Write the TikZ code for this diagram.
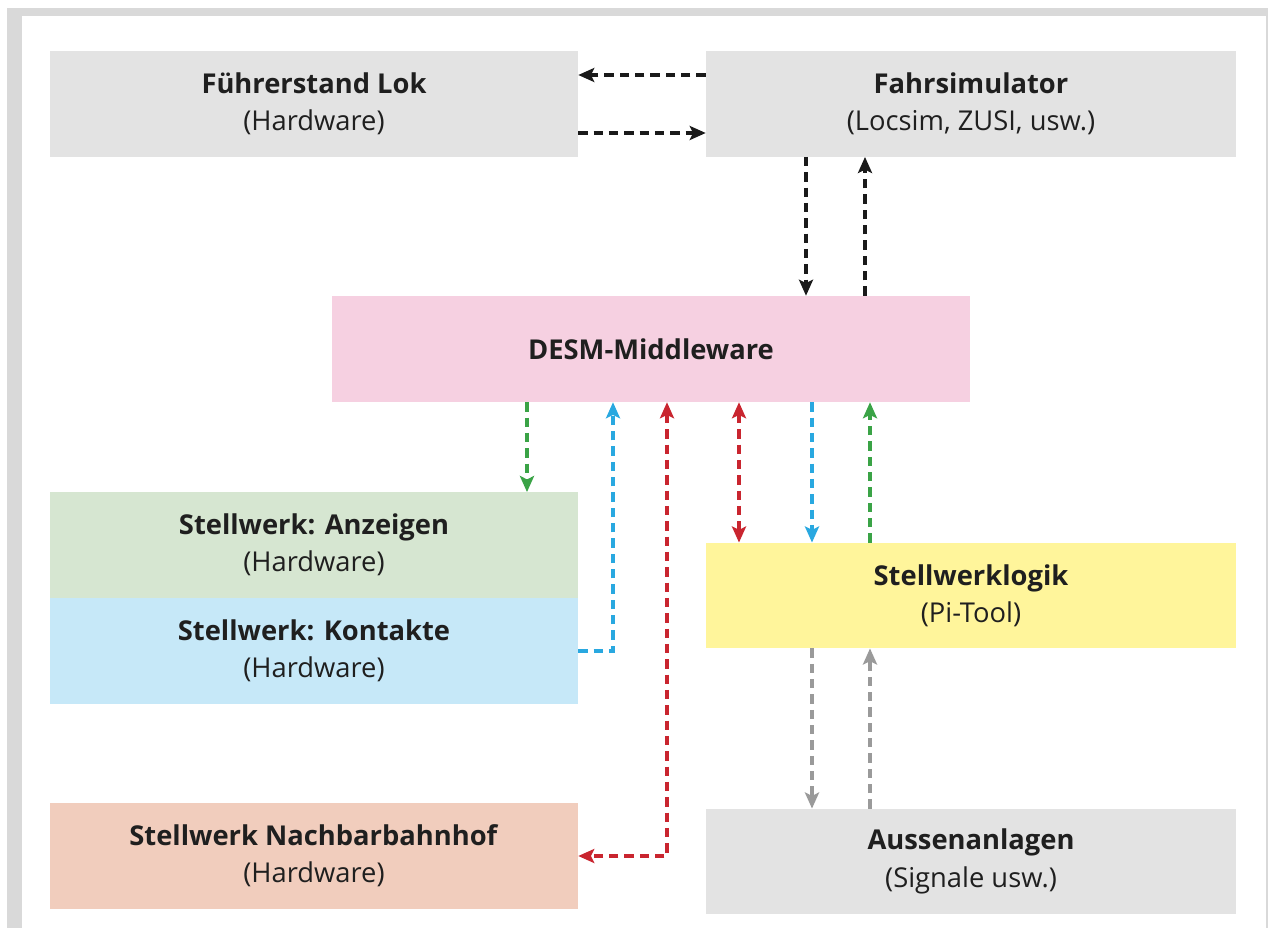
\documentclass[tikz,border=0pt]{standalone}
\usepackage{fontspec}
\setmainfont{Open Sans}
\usetikzlibrary{arrows.meta}

\definecolor{framegray}{RGB}{217,217,217}
\definecolor{boxgray}{RGB}{227,227,227}
\definecolor{boxpink}{RGB}{246,208,225}
\definecolor{boxgreen}{RGB}{214,230,209}
\definecolor{boxblue}{RGB}{198,232,248}
\definecolor{boxyellow}{RGB}{255,245,155}
\definecolor{boxsalmon}{RGB}{241,205,189}
\definecolor{arrgreen}{RGB}{58,163,70}
\definecolor{arrblue}{RGB}{41,168,224}
\definecolor{arrred}{RGB}{201,37,47}
\definecolor{arrgray}{RGB}{154,154,154}
\definecolor{arrblack}{RGB}{26,26,26}

\begin{document}
\begin{tikzpicture}[x=0.75pt,y=0.75pt,yscale=-1,xscale=1,
  >={Stealth[length=12pt,width=10.5pt,inset=2.5pt]},
  block/.style={inner sep=0pt,align=center,text=black!88,
    font=\fontsize{20.5}{28}\selectfont},
  wide/.style={block,minimum width=396pt,minimum height=79pt},
  link/.style={line width=2.5pt,dash pattern={on 7pt off 4.5pt},->},
  twoway/.style={link,<->}]
\useasboundingbox (0,0) rectangle (1268,928);

%Frame
\fill[framegray] (7,8) rectangle (1268,928);
\fill[white] (22,16) rectangle (1266,928);

%Boxes
\node[wide,fill=boxgray] (fuehr) at (314,104) {\textbf{Führerstand Lok}\\(Hardware)};
\node[wide,fill=boxgray,minimum width=397.5pt] (sim) at (971,104) {\textbf{Fahrsimulator}\\(Locsim, ZUSI, usw.)};
\node[block,fill=boxpink,minimum width=478.5pt,minimum height=79.5pt] (desm) at (651,349) {\textbf{DESM-Middleware}};
\node[wide,fill=boxgreen] (anz) at (314,545) {\textbf{Stellwerk: Anzeigen}\\(Hardware)};
\node[wide,fill=boxblue] (kont) at (314,651) {\textbf{Stellwerk: Kontakte}\\(Hardware)};
\node[wide,fill=boxyellow,minimum width=397.5pt] (logik) at (971,595.5) {\textbf{Stellwerklogik}\\(Pi-Tool)};
\node[wide,fill=boxsalmon] (nachbar) at (314,856) {\textbf{Stellwerk Nachbarbahnhof}\\(Hardware)};
\node[wide,fill=boxgray,minimum width=397.5pt] (aussen) at (971,861.5) {\textbf{Aussenanlagen}\\(Signale usw.)};

%Fahrsimulator <-> Fuehrerstand
\draw[link,arrblack] (sim.west |- 0,75) -- (fuehr.east |- 0,75);
\draw[link,arrblack] (fuehr.east |- 0,133) -- (sim.west |- 0,133);
\draw[link,arrblack] (806,0 |- sim.south) -- (806,0 |- desm.north);
\draw[link,arrblack] (865,0 |- desm.north) -- (865,0 |- sim.south);

%Middleware <-> Stellwerk
\draw[link,arrgreen] (527,0 |- desm.south) -- (527,0 |- anz.north);
\draw[link,arrblue] (kont.east) -| (613,0 |- desm.south);
\draw[twoway,arrred] (667,0 |- desm.south) |- (nachbar.east);
\draw[twoway,arrred] (739,0 |- desm.south) -- (739,0 |- logik.north);
\draw[link,arrblue] (812,0 |- desm.south) -- (812,0 |- logik.north);
\draw[link,arrgreen] (870,0 |- logik.north) -- (870,0 |- desm.south);

%Stellwerklogik <-> Aussenanlagen
\draw[link,arrgray] (812,0 |- logik.south) -- (812,0 |- aussen.north);
\draw[link,arrgray] (870,0 |- aussen.north) -- (870,0 |- logik.south);

\end{tikzpicture}
\end{document}
